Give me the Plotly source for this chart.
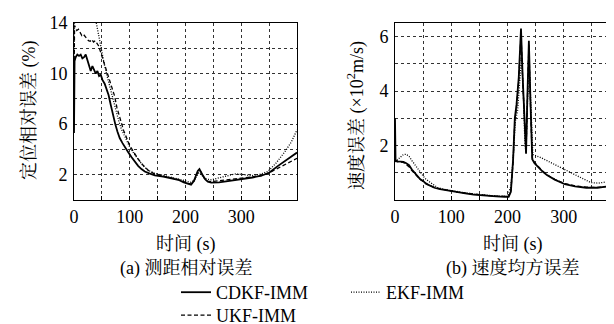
import plotly.graph_objects as go

# ---------------- (a) 测距相对误差 ----------------
t_a_cdkf = [0, 1, 3, 6, 9, 12, 15, 18, 21, 24, 27, 30, 33, 36, 39, 42, 45, 48, 51, 55, 58, 62, 66, 70,
            74, 78, 82, 87, 92, 97, 103, 109, 115, 121, 127, 135, 145, 160, 175, 187, 197, 204, 210, 215,
            219, 222, 225, 228, 231, 236, 240, 246, 260, 276, 290, 306, 320, 336, 350, 366, 380, 390, 400]
a_cdkf = [5.3, 11.0, 11.3, 11.5, 11.4, 11.5, 11.2, 11.3, 11.5, 11.1, 10.7, 10.2, 10.6, 10.3, 10.0, 10.2,
          9.8, 9.9, 9.5, 9.2, 8.8, 8.3, 7.5, 6.7, 6.0, 5.4, 4.9, 4.5, 4.1, 3.8, 3.4, 3.0, 2.7, 2.45, 2.25,
          2.1, 1.95, 1.85, 1.7, 1.6, 1.4, 1.3, 1.22, 1.5, 1.95, 2.3, 2.45, 2.25, 1.95, 1.6, 1.45, 1.38,
          1.4, 1.5, 1.58, 1.68, 1.78, 1.92, 2.15, 2.7, 3.15, 3.45, 3.75]

t_a_ukf = [0, 1, 3, 5, 8, 11, 14, 17, 20, 23, 26, 29, 32, 35, 38, 41, 44, 47, 50, 55, 60, 64, 69, 73, 77,
           81, 85, 89, 94, 100, 107, 115, 124, 133, 145, 160, 175, 187, 197, 204, 210, 215, 219, 222, 225,
           228, 231, 236, 240, 246, 260, 276, 290, 306, 320, 336, 350, 366, 380, 390, 400]
a_ukf = [9.0, 13.8, 13.6, 13.4, 13.5, 13.2, 13.0, 13.1, 12.9, 12.8, 12.6, 12.55, 12.7, 12.5, 12.6, 12.4,
         12.2, 11.8, 11.4, 10.7, 9.9, 9.4, 8.8, 8.2, 7.3, 6.6, 6.1, 5.5, 4.9, 4.3, 3.8, 3.25, 2.75, 2.35,
         2.05, 1.9, 1.75, 1.62, 1.45, 1.33, 1.25, 1.45, 1.85, 2.2, 2.35, 2.2, 1.9, 1.6, 1.5, 1.45, 1.52,
         1.6, 1.68, 1.76, 1.85, 1.92, 2.15, 2.5, 2.85, 3.05, 3.3]

t_a_ekf = [0, 1, 20, 38, 40, 45, 50, 55, 60, 65, 70, 75, 80, 85, 90, 95, 100, 107, 115, 124, 133, 145, 160,
           175, 187, 197, 204, 210, 215, 220, 224, 228, 232, 238, 246, 260, 276, 290, 305, 318, 335, 348,
           362, 378, 390, 400]
a_ekf = [6.0, 16.0, 16.0, 14.6, 14.0, 12.8, 11.6, 10.6, 9.7, 8.8, 7.9, 7.0, 6.3, 5.6, 5.1, 4.6, 4.2, 3.7,
         3.2, 2.7, 2.35, 2.1, 1.95, 1.8, 1.68, 1.55, 1.45, 1.4, 1.55, 1.9, 2.15, 2.05, 1.8, 1.65, 1.6,
         1.75, 1.94, 2.07, 2.0, 1.92, 2.05, 2.26, 2.9, 3.8, 4.6, 5.55]

# ---------------- (b) 速度均方误差 ----------------
t_b_cdkf = [0, 1, 5, 10, 15, 20, 25, 30, 35, 40, 45, 50, 55, 60, 70, 80, 90, 100, 110, 125, 140, 160, 180,
            195, 202, 206, 210, 213, 216, 220, 224, 227, 230, 233, 235, 238, 241, 244, 248, 255, 262, 270,
            284, 302, 320, 340, 360, 380, 400]
b_cdkf = [3.0, 1.45, 1.42, 1.42, 1.4, 1.35, 1.28, 1.12, 0.98, 0.88, 0.76, 0.7, 0.6, 0.55, 0.45, 0.4, 0.36,
          0.32, 0.28, 0.24, 0.2, 0.16, 0.13, 0.12, 0.12, 0.3, 1.5, 3.0, 3.5, 4.5, 6.3, 4.5, 2.8, 1.7, 3.5,
          5.85, 3.5, 1.5, 1.35, 1.2, 1.05, 0.92, 0.75, 0.58, 0.5, 0.45, 0.45, 0.5, 0.53]

t_b_ukf = [0, 1, 5, 10, 15, 20, 25, 30, 35, 40, 45, 50, 55, 60, 70, 80, 90, 100, 110, 125, 140, 160, 180,
           195, 202, 206, 210, 213, 216, 220, 224, 227, 230, 233, 235, 238, 241, 244, 248, 255, 262, 270,
           284, 302, 320, 340, 360, 380, 400]
b_ukf = [1.45, 1.42, 1.4, 1.4, 1.38, 1.3, 1.22, 1.08, 0.95, 0.86, 0.75, 0.69, 0.6, 0.55, 0.46, 0.41, 0.37,
         0.33, 0.29, 0.25, 0.21, 0.17, 0.14, 0.13, 0.13, 0.35, 1.4, 2.9, 3.4, 4.4, 6.1, 4.4, 2.7, 1.75,
         3.4, 5.7, 3.4, 1.55, 1.38, 1.22, 1.07, 0.93, 0.76, 0.6, 0.52, 0.47, 0.46, 0.5, 0.54]

t_b_ekf = [0, 5, 10, 15, 20, 25, 30, 35, 40, 47, 53, 59, 67, 76, 90, 100, 110, 125, 140, 160, 180, 200,
           206, 210, 214, 218, 222, 225, 228, 231, 233, 236, 238, 241, 245, 260, 280, 302, 325, 348, 362,
           380, 400]
b_ekf = [1.4, 1.5, 1.6, 1.67, 1.68, 1.6, 1.45, 1.3, 1.15, 0.94, 0.8, 0.7, 0.57, 0.45, 0.38, 0.34, 0.3,
         0.26, 0.22, 0.18, 0.15, 0.13, 0.5, 1.5, 2.9, 3.3, 4.3, 5.3, 4.0, 2.0, 1.8, 3.5, 5.3, 3.8, 1.67,
         1.55, 1.35, 1.12, 0.88, 0.64, 0.62, 0.68, 0.78]

names = ["CDKF-IMM", "EKF-IMM", "UKF-IMM"]
legend_slot = {"CDKF-IMM": "legend", "EKF-IMM": "legend", "UKF-IMM": "legend2"}
x_ticks = [0, 50, 100, 150, 200, 250, 300, 350, 400]
x_ticktext = ["0", "", "100", "", "200", "", "300", "", ""]
ya_ticks = [2, 4, 6, 8, 10, 12, 14]
ya_ticktext = ["2", "", "6", "", "10", "", "14"]
yb_ticks = [1, 2, 3, 4, 5, 6]
yb_ticktext = ["", "2", "", "4", "", "6"]

FONT = "Liberation Serif, Noto Serif CJK SC, Noto Sans CJK SC, serif"
W, H = 614, 324

fig = go.Figure()
styles = {"CDKF-IMM": dict(dash="solid", width=1.8),
          "EKF-IMM": dict(dash="1px,1.5px", width=1.3),
          "UKF-IMM": dict(dash="4px,2.5px", width=1.3)}

series_a = {"CDKF-IMM": (t_a_cdkf, a_cdkf), "EKF-IMM": (t_a_ekf, a_ekf), "UKF-IMM": (t_a_ukf, a_ukf)}
series_b = {"CDKF-IMM": (t_b_cdkf, b_cdkf), "EKF-IMM": (t_b_ekf, b_ekf), "UKF-IMM": (t_b_ukf, b_ukf)}

for n in names:
    tx, ty = series_a[n]
    fig.add_trace(go.Scatter(x=tx, y=ty, mode="lines", name=n, legendgroup=n, legend=legend_slot[n],
                             line=dict(color="black", **styles[n]), xaxis="x", yaxis="y"))
for n in names:
    tx, ty = series_b[n]
    fig.add_trace(go.Scatter(x=tx, y=ty, mode="lines", name=n, legendgroup=n, showlegend=False,
                             line=dict(color="black", **styles[n]), xaxis="x2", yaxis="y2"))

ax_common = dict(showline=True, mirror=True, linecolor="black", linewidth=1,
                 showgrid=True, gridcolor="#333", griddash="dot", gridwidth=1,
                 zeroline=False, automargin=False,
                 tickfont=dict(family=FONT, size=18, color="black"))
x_ticks_style = dict(ticks="inside", ticklen=4, tickcolor="black")
y_ticks_style = dict(ticks="outside", ticklen=2, tickcolor="rgba(0,0,0,0)")

def px_x(p):
    return p / W

def px_y(p):
    return 1 - p / H

leg_common = dict(orientation="h", xanchor="left", yanchor="top",
                  tracegroupgap=0, font=dict(family=FONT, size=18, color="black"),
                  bgcolor="rgba(0,0,0,0)")

fig.update_layout(
    template="none",
    width=W, height=H, margin=dict(l=0, r=0, t=0, b=0, autoexpand=False),
    paper_bgcolor="white", plot_bgcolor="white",
    font=dict(family=FONT, size=18, color="black"),
    xaxis=dict(domain=[px_x(66), px_x(289)], range=[0, 400], tickvals=x_ticks, ticktext=x_ticktext,
               anchor="y", **x_ticks_style, **ax_common),
    yaxis=dict(domain=[px_y(192), px_y(15)], range=[0, 14], tickvals=ya_ticks, ticktext=ya_ticktext,
               anchor="x", **y_ticks_style, **ax_common),
    xaxis2=dict(domain=[px_x(387), px_x(612)], range=[0, 400], tickvals=x_ticks, ticktext=x_ticktext,
                anchor="y2", **x_ticks_style, **ax_common),
    yaxis2=dict(domain=[px_y(192), px_y(15)], range=[0, 6.5], tickvals=yb_ticks, ticktext=yb_ticktext,
                anchor="x2", **y_ticks_style, **ax_common),
    showlegend=True,
    legend=dict(x=px_x(168), y=px_y(266), entrywidth=125, entrywidthmode="pixels", **leg_common),
    legend2=dict(x=px_x(168), y=px_y(289), **leg_common),
)

ann = [
    dict(text="定位相对误差 (%)", x=px_x(21), y=px_y(103), textangle=-90),
    dict(text="速度误差 (×10<sup>2</sup>m/s)", x=px_x(348), y=px_y(108), textangle=-90),
    dict(text="时间 (s)", x=px_x(178), y=px_y(236)),
    dict(text="时间 (s)", x=px_x(505), y=px_y(236)),
    dict(text="(a) 测距相对误差", x=px_x(178), y=px_y(260)),
    dict(text="(b) 速度均方误差", x=px_x(505), y=px_y(260)),
]
for a in ann:
    fig.add_annotation(xref="paper", yref="paper", showarrow=False, xanchor="center", yanchor="middle",
                       font=dict(family=FONT, size=18, color="black"), **a)

fig.write_html("out.html")
